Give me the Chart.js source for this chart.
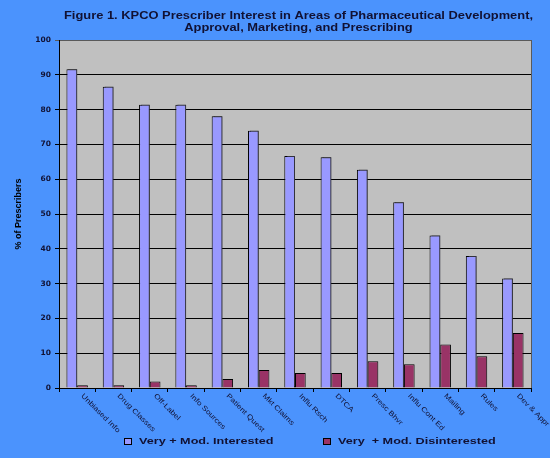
<!DOCTYPE html>
<html>
<head>
<meta charset="utf-8">
<script src="https://cdn.jsdelivr.net/npm/chart.js@4/dist/chart.umd.min.js"></script>
<style>
  body { margin: 0; background: #4b93fd; }
  canvas { display: block; }
</style>
</head>
<body>
<canvas id="chart" width="550" height="458"></canvas>
<script>
// chart data
const categories = ['Unbiased Info', 'Drug Classes', 'Off-Label', 'Info Sources', 'Patient Quest',
    'Mkt Claims', 'Influ Rsch', 'DTCA', 'Presc Bhvr', 'Influ Cont Ed', 'Mailing', 'Rules', 'Dev & Appr'];
const interested = [91.6, 86.6, 81.4, 81.4, 78.1, 73.9, 66.7, 66.3, 62.7, 53.4, 43.8, 37.9, 31.5];
const disinterested = [0.8, 0.8, 1.9, 0.8, 2.6, 5.2, 4.3, 4.3, 7.7, 6.8, 12.5, 9.1, 15.8];
const seriesNames = ['Very + Mod. Interested', 'Very  + Mod. Disinterested'];
const titleLines = ['Figure 1. KPCO Prescriber Interest in Areas of Pharmaceutical Development,',
    'Approval, Marketing, and Prescribing'];
const yTitle = '% of Prescribers';

const textColor = '#111133';

// draws text squeezed/stretched sideways, the picture is wide
function stretchText(ctx, text, x, y, font, sx, align) {
    ctx.save();
    ctx.font = font;
    ctx.textBaseline = 'middle';
    ctx.textAlign = align || 'left';
    ctx.translate(x, y);
    ctx.scale(sx, 1);
    ctx.fillText(text, 0, 0);
    ctx.restore();
}

const decor = {
    id: 'decor',
    beforeDraw(chart) {
        const { ctx, chartArea: a } = chart;
        ctx.save();
        ctx.fillStyle = '#4b93fd';
        ctx.fillRect(0, 0, chart.width, chart.height);
        ctx.fillStyle = '#c0c0c0';
        ctx.fillRect(a.left, a.top, a.right - a.left, a.bottom - a.top);
        ctx.restore();
    },
    beforeDatasetDraw(chart, args) {
        if (args.index !== 0) return;
        const ctx = chart.ctx;
        ctx.save();
        ctx.shadowColor = 'rgba(60,60,70,0.85)';
        ctx.shadowOffsetX = 2;
        ctx.shadowOffsetY = -1;
    },
    afterDatasetDraw(chart, args) {
        if (args.index !== 0) return;
        chart.ctx.restore();
    },
    afterDraw(chart) {
        const { ctx, chartArea: a } = chart;
        const x = chart.scales.x;
        ctx.save();

        // right border of plot
        ctx.strokeStyle = '#5a5a5a';
        ctx.lineWidth = 1;
        ctx.beginPath();
        ctx.moveTo(a.right + 0.5, a.top);
        ctx.lineTo(a.right + 0.5, a.bottom);
        ctx.stroke();

        // title
        ctx.fillStyle = textColor;
        ctx.font = 'bold 10px "Liberation Sans"';
        const sx = 469 / ctx.measureText(titleLines[0]).width;
        stretchText(ctx, titleLines[0], 298.5, 16.5, 'bold 10px "Liberation Sans"', sx, 'center');
        stretchText(ctx, titleLines[1], 298.5, 28, 'bold 10px "Liberation Sans"', sx, 'center');

        // slanted category labels
        categories.forEach((lab, i) => {
            const px = x.getPixelForValue(i);
            ctx.save();
            ctx.translate(px + 5, 395);
            ctx.rotate(Math.PI / 4);
            ctx.scale(1.2, 1);
            ctx.font = '7px "Liberation Sans"';
            ctx.textAlign = 'left';
            ctx.textBaseline = 'middle';
            ctx.fillStyle = textColor;
            ctx.fillText(lab, 0, 0);
            ctx.restore();
        });

        // legend
        const boxX = [124, 323];
        const textX = [139, 338];
        chart.data.datasets.forEach((ds, i) => {
            ctx.fillStyle = ds.backgroundColor;
            ctx.fillRect(boxX[i], 438, 7, 6);
            ctx.strokeStyle = '#000';
            ctx.strokeRect(boxX[i] + 0.5, 438.5, 7, 6);
            ctx.fillStyle = textColor;
            stretchText(ctx, ds.label, textX[i], 441.5, 'bold 9.5px "Liberation Sans"', 1.33, 'left');
        });
        ctx.restore();
    }
};

new Chart(document.getElementById('chart'), {
    type: 'bar',
    data: {
        labels: categories,
        datasets: [{
            label: seriesNames[0],
            data: interested,
            backgroundColor: '#9999ff',
            borderColor: '#000',
            borderWidth: 1
        }, {
            label: seriesNames[1],
            data: disinterested,
            backgroundColor: '#993366',
            borderColor: '#000',
            borderWidth: 1
        }]
    },
    options: {
        responsive: false,
        animation: false,
        layout: { padding: { left: 0, right: 19, top: 40, bottom: 0 } },
        datasets: { bar: { categoryPercentage: 0.59, barPercentage: 1 } },
        plugins: {
            legend: { display: false },
            title: { display: false },
            tooltip: { enabled: false }
        },
        scales: {
            x: {
                afterFit(scale) { scale.height = 70; },
                ticks: { display: false },
                grid: { drawOnChartArea: false, tickLength: 4, color: '#000', offset: true },
                border: { color: '#000', width: 1 }
            },
            y: {
                min: 0,
                max: 100,
                afterFit(scale) { scale.width = 59; },
                ticks: {
                    stepSize: 10,
                    padding: 4,
                    color: textColor,
                    font: { family: 'DejaVu Sans', weight: 'bold', size: 7.5 }
                },
                grid: {
                    color: (c) => (c.tick && c.tick.value === 100) ? '#5a5a5a' : '#000',
                    tickLength: 4,
                    lineWidth: 1
                },
                border: { color: '#000', width: 1 },
                title: {
                    display: true,
                    text: yTitle,
                    color: '#000',
                    padding: { top: 13, bottom: 0 },
                    font: { family: 'Liberation Sans', weight: 'bold', size: 9 }
                }
            }
        }
    },
    plugins: [decor]
});
</script>
</body>
</html>
